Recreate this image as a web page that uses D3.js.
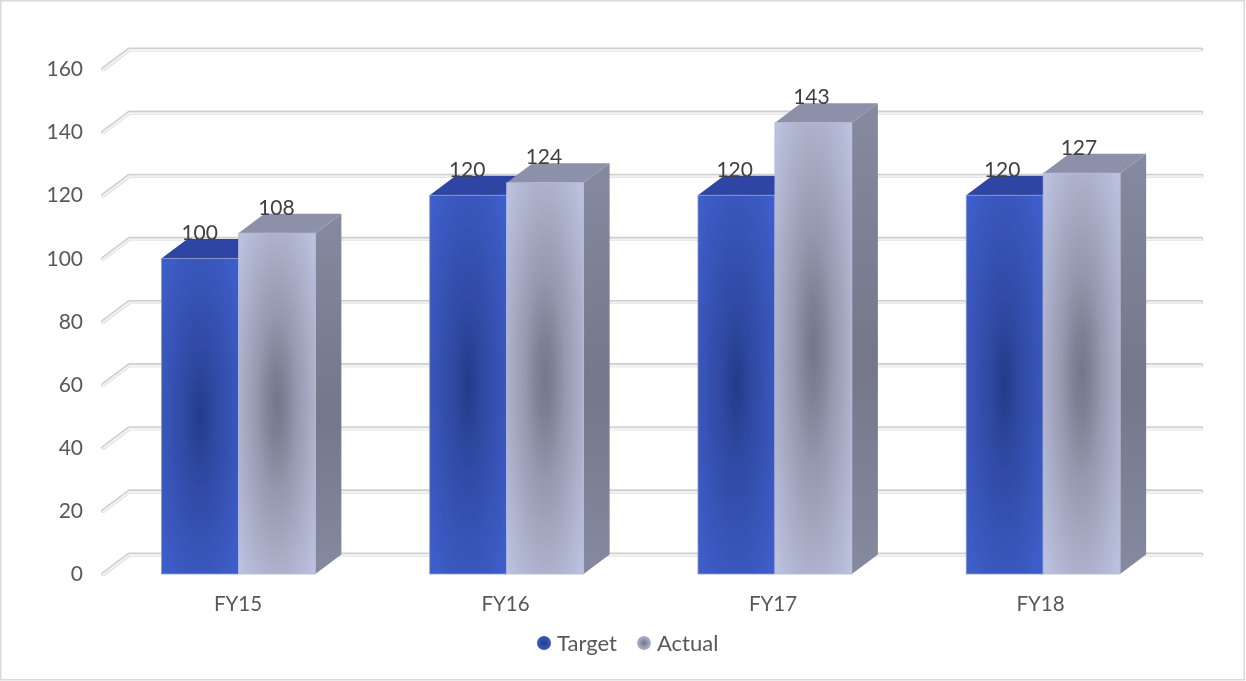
<!DOCTYPE html>
<html><head><meta charset="utf-8">
<script src="https://cdn.jsdelivr.net/npm/d3@7"></script>
<style>html,body{margin:0;padding:0;background:#fff}svg{display:block}text{font-family:Lato,"Open Sans",sans-serif}</style>
</head><body><svg id="c" width="1246" height="681"></svg>
<script>
const categories = ["FY15","FY16","FY17","FY18"];
const seriesNames = ["Target","Actual"];
const targetValues = [100,120,120,120];
const actualValues = [108,124,143,127];
const yTicks = [0,20,40,60,80,100,120,140,160];

const svg = d3.select("#c");
const dx = 26, dy = -19.5;
const y = d3.scaleLinear().domain([0,160]).range([574,69]);
const x = d3.scaleBand().domain(categories).range([104.3,1177.3]).paddingInner(0.4262).paddingOuter(0.2131);
const xText = d3.scaleBand().domain(categories).range([104.3,1174.3]).paddingInner(0.4262).paddingOuter(0.2131);
const xs = d3.scaleBand().domain(seriesNames).range([0,x.bandwidth()]);

const pal = {
  Target:{stops:[[0,"#233c88"],[.27,"#2f49a2"],[.69,"#3a57bc"],[1,"#3f60d0"]],top:"#2d44a3",side:["#2d44a3","#2d44a3"],line:"#8f9cc8"},
  Actual:{stops:[[0,"#74778a"],[.15,"#7f8294"],[.36,"#9598ae"],[.69,"#adb1cb"],[1,"#bec5e4"]],top:"#8c90a8",side:["#858aa0","#74778a"],line:"#b4b9d2"}
};
const defs = svg.append("defs");
seriesNames.forEach(s=>{
  const g = defs.append("radialGradient").attr("id","g"+s).attr("cx",.5).attr("cy",.5).attr("r",.72);
  pal[s].stops.forEach(([o,c])=>g.append("stop").attr("offset",o).attr("stop-color",c));
  const l = defs.append("linearGradient").attr("id","side"+s).attr("x1",0).attr("x2",0).attr("y1",0).attr("y2",1);
  [[0,pal[s].side[0]],[.55,pal[s].side[1]],[1,pal[s].side[0]]].forEach(([o,c])=>l.append("stop").attr("offset",o).attr("stop-color",c));
});
defs.append("filter").attr("id","soft")
  .attr("filterUnits","userSpaceOnUse").attr("primitiveUnits","userSpaceOnUse")
  .attr("x",0).attr("y",0).attr("width",1246).attr("height",681)
  .append("feGaussianBlur").attr("stdDeviation",.4);

const root = svg.append("g").attr("filter","url(#soft)");
root.append("rect").attr("x",.75).attr("y",.75).attr("width",1243.5).attr("height",679).attr("fill","#fff").attr("stroke","#d9d9d9").attr("stroke-width",1.5);

// gridlines: wall + left diagonal
const grid = root.append("g").attr("fill","none").attr("stroke-linecap","round").attr("stroke-linejoin","round");
const gridPath = t => { const p=d3.path(); p.moveTo(x.range()[0]-1,y(t)); p.lineTo(x.range()[0]+dx-1,y(t)+dy); p.lineTo(x.range()[1]+dx-2,y(t)+dy); return p.toString(); };
grid.selectAll(".o").data(yTicks).join("path").attr("d",gridPath).attr("stroke","#cfcfcf").attr("stroke-width",4.2);
grid.selectAll(".i").data(yTicks).join("path").attr("d",gridPath).attr("stroke","#f2f2f2").attr("stroke-width",2.2).attr("transform","translate(0,.7)");

// bars
const rows = categories.flatMap((c,i)=>[
  {c,s:"Target",v:targetValues[i]},{c,s:"Actual",v:actualValues[i]}]);
const bars = root.append("g").selectAll("g").data(rows).join("g");
const X0 = d=>x(d.c)+xs(d.s), X1 = d=>X0(d)+xs.bandwidth();
bars.append("path").attr("fill",d=>`url(#side${d.s})`)
  .attr("d",d=>`M${X1(d)},${y(d.v)}l${dx},${dy}V${y(0)+dy}l${-dx},${-dy}Z`);
bars.append("path").attr("fill",d=>pal[d.s].top)
  .attr("d",d=>`M${X0(d)},${y(d.v)}l${dx},${dy}H${X1(d)+dx}l${-dx},${-dy}Z`);
bars.append("rect").attr("x",X0).attr("y",d=>y(d.v)).attr("width",xs.bandwidth())
  .attr("height",d=>y(0)-y(d.v)).attr("fill",d=>`url(#g${d.s})`)
  .attr("stroke",d=>pal[d.s].line).attr("stroke-width",.8);
root.append("g").selectAll("text").data(rows).join("text")
  .attr("x",d=>xText(d.c)+(d.s==="Target"?.25:.75)*xText.bandwidth()).attr("y",d=>y(d.v)-26).attr("dy","0.36em")
  .attr("text-anchor","middle").attr("font-size",21).attr("fill","#404040").text(d=>d.v);

// axes
const ay = root.append("g").attr("transform","translate(83,0)").call(d3.axisLeft(y).tickValues(yTicks).tickSize(0).tickPadding(0));
ay.select(".domain").remove();
ay.selectAll("text").attr("font-size",21).attr("fill","#595959").style("font-family","Lato");
const ax = root.append("g").attr("transform","translate(0,596)").call(d3.axisBottom(xText).tickSize(0).tickPadding(0));
ax.select(".domain").remove();
ax.selectAll("text").attr("font-size",20.5).attr("fill","#595959").style("font-family","Lato");

// legend
const lx = d3.scaleOrdinal().domain(seriesNames).range([544,644]);
const leg = root.append("g").selectAll("g").data(seriesNames).join("g").attr("transform",s=>`translate(${lx(s)},643)`);
leg.append("circle").attr("r",7).attr("fill",s=>`url(#g${s})`);
leg.append("text").attr("x",13).attr("dy","0.36em").attr("font-size",22).attr("fill","#595959").text(s=>s);
</script></body></html>
